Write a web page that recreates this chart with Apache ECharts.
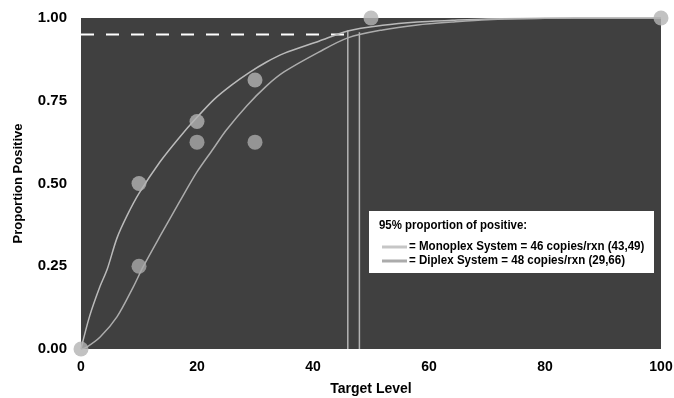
<!DOCTYPE html>
<html>
<head>
<meta charset="utf-8">
<script src="https://cdn.jsdelivr.net/npm/echarts@6/dist/echarts.min.js"></script>
<style>
  html, body { margin: 0; padding: 0; background: #fff; }
  #chart { width: 674px; height: 398px; }
</style>
</head>
<body>
<div id="chart"></div>
<script>
// observed points
var monoPts = [[0, 0], [10, 0.5], [20, 0.6875], [30, 0.8125], [50, 1], [100, 1]];
var diplexPts = [[10, 0.25], [20, 0.625], [30, 0.625]];

// fitted curves
var monoX = [0, 1.5, 3.3, 4.5, 6.2, 8, 10, 13.6, 17, 20, 23, 26, 29, 32, 35, 41, 46, 52, 58, 64, 70, 80, 90, 100];
var monoY = [0, 0.10, 0.19, 0.24, 0.335, 0.405, 0.47, 0.565, 0.64, 0.70, 0.755, 0.798, 0.835, 0.867, 0.893, 0.93, 0.961, 0.978, 0.988, 0.993, 0.997, 0.999, 1, 1];
var diplexX = [0, 1, 3.3, 6.2, 9, 10.7, 13.6, 17, 20, 22.8, 25, 28.6, 32, 35, 41, 46, 52, 58, 64, 70, 80, 90, 100];
var diplexY = [0, 0.006, 0.036, 0.097, 0.187, 0.248, 0.34, 0.445, 0.535, 0.605, 0.66, 0.735, 0.795, 0.837, 0.897, 0.94, 0.964, 0.979, 0.988, 0.995, 0.999, 1, 1];

// 95% detection levels
var lodLevel = 0.95;
var lodX = [46, 48];
var lodTop = [0.962, 0.957];

var yTicks = ['0.00', '0.25', '0.50', '0.75', '1.00'];
var legendTitle = '95% proportion of positive:';
var legendRows = ['= Monoplex System = 46 copies/rxn (43,49)', '= Diplex System = 48 copies/rxn (29,66)'];

var zip = function (xs, ys) {
  return xs.map(function (x, i) { return [x, ys[i]]; });
};

var chart = echarts.init(document.getElementById('chart'));
var tickFont = { color: '#000', fontFamily: 'Liberation Sans', fontWeight: 'bold' };
var nameFont = { color: '#000', fontFamily: 'Liberation Sans', fontWeight: 'bold' };
var boxFont = 'bold 13px "Liberation Sans"';

chart.setOption({
  animation: false,
  grid: {
    left: 81, right: 13, top: 18, bottom: 49,
    outerBoundsMode: 'none',
    show: true, backgroundColor: '#404040', borderWidth: 0
  },
  xAxis: {
    type: 'value', min: 0, max: 100, interval: 20,
    name: 'Target Level', nameLocation: 'middle', nameGap: 33,
    nameTextStyle: Object.assign({ fontSize: 14 }, nameFont),
    axisLine: { show: false }, axisTick: { show: false }, splitLine: { show: false },
    axisLabel: Object.assign({ fontSize: 14, margin: 11 }, tickFont)
  },
  yAxis: {
    type: 'value', min: 0, max: 1, interval: 0.25,
    name: 'Proportion Positive', nameLocation: 'middle', nameGap: 56,
    nameMoveOverlap: false,
    nameTextStyle: Object.assign({ fontSize: 13 }, nameFont),
    axisLine: { show: false }, axisTick: { show: false }, splitLine: { show: false },
    axisLabel: Object.assign({
      fontSize: 15, margin: 14,
      formatter: function (v) { return yTicks[Math.round(v / 0.25)]; }
    }, tickFont)
  },
  series: [
    {
      type: 'line', data: [[0, lodLevel], [lodX[0], lodLevel]],
      symbol: 'none', lineStyle: { color: '#fff', width: 2, type: [13, 12] }, z: 3
    },
    {
      type: 'line', data: [[lodX[0], 0], [lodX[0], lodTop[0]]],
      symbol: 'none', lineStyle: { color: '#b4b4b4', width: 1.5 }, z: 3
    },
    {
      type: 'line', data: [[lodX[1], 0], [lodX[1], lodTop[1]]],
      symbol: 'none', lineStyle: { color: '#b4b4b4', width: 1.5 }, z: 3
    },
    {
      type: 'line', data: zip(monoX, monoY), smooth: 0.3,
      symbol: 'none', lineStyle: { color: '#bababa', width: 1.5 }, z: 4
    },
    {
      type: 'line', data: zip(diplexX, diplexY), smooth: 0.3,
      symbol: 'none', lineStyle: { color: '#acacac', width: 1.5 }, z: 4
    },
    {
      type: 'scatter', data: monoPts, symbolSize: 15, clip: false,
      itemStyle: { color: '#b3b3b3' }, z: 5
    },
    {
      type: 'scatter', data: diplexPts, symbolSize: 15, clip: false,
      itemStyle: { color: '#a9a9a9' }, z: 5
    }
  ],
  graphic: [
    {
      type: 'group', left: 369, top: 211, z: 10,
      children: [
        { type: 'rect', shape: { x: 0, y: 0, width: 285, height: 62 }, style: { fill: '#fff' } },
        {
          type: 'text', x: 10, y: 14, scaleX: 0.88,
          style: { text: legendTitle, fill: '#000', font: boxFont, verticalAlign: 'middle' }
        },
        { type: 'line', shape: { x1: 13, y1: 36, x2: 38, y2: 36 }, style: { stroke: '#c6c6c6', lineWidth: 3 } },
        { type: 'line', shape: { x1: 13, y1: 50, x2: 38, y2: 50 }, style: { stroke: '#ababab', lineWidth: 3 } },
        {
          type: 'text', x: 40, y: 35, scaleX: 0.89,
          style: { text: legendRows[0], fill: '#000', font: boxFont, verticalAlign: 'middle' }
        },
        {
          type: 'text', x: 40, y: 49, scaleX: 0.89,
          style: { text: legendRows[1], fill: '#000', font: boxFont, verticalAlign: 'middle' }
        }
      ]
    }
  ]
});
</script>
</body>
</html>
